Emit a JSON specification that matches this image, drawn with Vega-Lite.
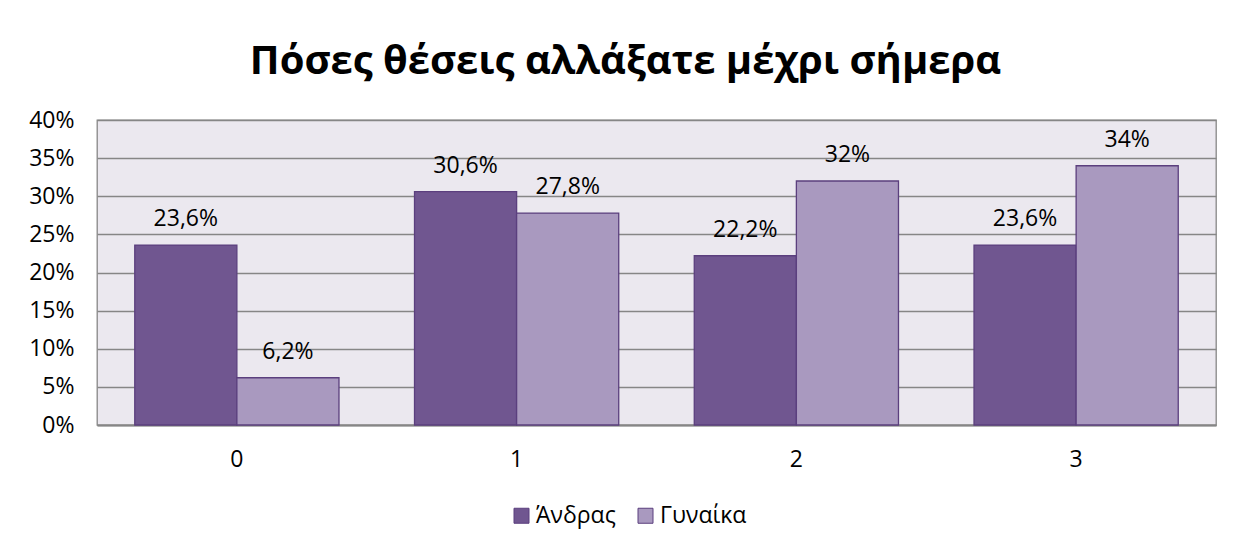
{
  "$schema": "https://vega.github.io/schema/vega-lite/v6.json",
  "width": 1119,
  "height": 305,
  "autosize": {"type": "none"},
  "padding": {"left": 97, "top": 120, "right": 31, "bottom": 126},
  "background": "white",
  "title": {
    "text": "Πόσες θέσεις αλλάξατε μέχρι σήμερα",
    "font": "Open Sans",
    "fontSize": 40,
    "fontWeight": "bold",
    "color": "#000000",
    "anchor": "middle",
    "dx": -31,
    "offset": 27
  },
  "data": {
    "values": [
      {"cat": "0", "sex": "Άνδρας", "v": 0.236, "label": "23,6%"},
      {"cat": "0", "sex": "Γυναίκα", "v": 0.062, "label": "6,2%"},
      {"cat": "1", "sex": "Άνδρας", "v": 0.306, "label": "30,6%"},
      {"cat": "1", "sex": "Γυναίκα", "v": 0.278, "label": "27,8%"},
      {"cat": "2", "sex": "Άνδρας", "v": 0.222, "label": "22,2%"},
      {"cat": "2", "sex": "Γυναίκα", "v": 0.32, "label": "32%"},
      {"cat": "3", "sex": "Άνδρας", "v": 0.236, "label": "23,6%"},
      {"cat": "3", "sex": "Γυναίκα", "v": 0.34, "label": "34%"}
    ]
  },
  "encoding": {
    "x": {
      "field": "cat", "type": "nominal",
      "scale": {"paddingInner": 0.27, "paddingOuter": 0.135},
      "axis": {"title": null, "labelAngle": 0, "labelFont": "Open Sans", "labelFontSize": 23, "labelColor": "#000000", "labelPadding": 23, "ticks": false, "domainColor": "#868686", "domainWidth": 2}
    },
    "xOffset": {"field": "sex", "type": "nominal", "scale": {"paddingInner": 0, "paddingOuter": 0}},
    "y": {
      "field": "v", "type": "quantitative",
      "scale": {"domain": [0, 0.4]},
      "axis": {"title": null, "format": "%", "values": [0, 0.05, 0.1, 0.15, 0.2, 0.25, 0.3, 0.35, 0.4], "labelFont": "Open Sans", "labelFontSize": 23, "labelColor": "#000000", "labelPadding": 23, "ticks": false, "domain": false, "gridColor": "#868686", "gridWidth": 1.3}
    }
  },
  "layer": [
    {
      "mark": {"type": "bar", "stroke": "#5B3F7E", "strokeWidth": 1.3},
      "encoding": {
        "color": {
          "field": "sex", "type": "nominal",
          "scale": {"domain": ["Άνδρας", "Γυναίκα"], "range": ["#705690", "#A999BF"]},
          "legend": {"title": null, "orient": "none", "legendX": 413, "legendY": 384, "direction": "horizontal", "symbolType": "square", "symbolSize": 225, "symbolStrokeColor": "#5B3F7E", "symbolStrokeWidth": 1, "labelFont": "Open Sans", "labelFontSize": 23, "labelColor": "#000000", "columnPadding": 18, "labelOffset": 3}
        }
      }
    },
    {
      "mark": {"type": "text", "baseline": "alphabetic", "dy": -19, "font": "Open Sans", "fontSize": 23, "color": "#000000"},
      "encoding": {"text": {"field": "label"}}
    }
  ],
  "config": {
    "view": {"fill": "#EBE8EF", "stroke": "#868686", "strokeWidth": 1.3}
  }
}
